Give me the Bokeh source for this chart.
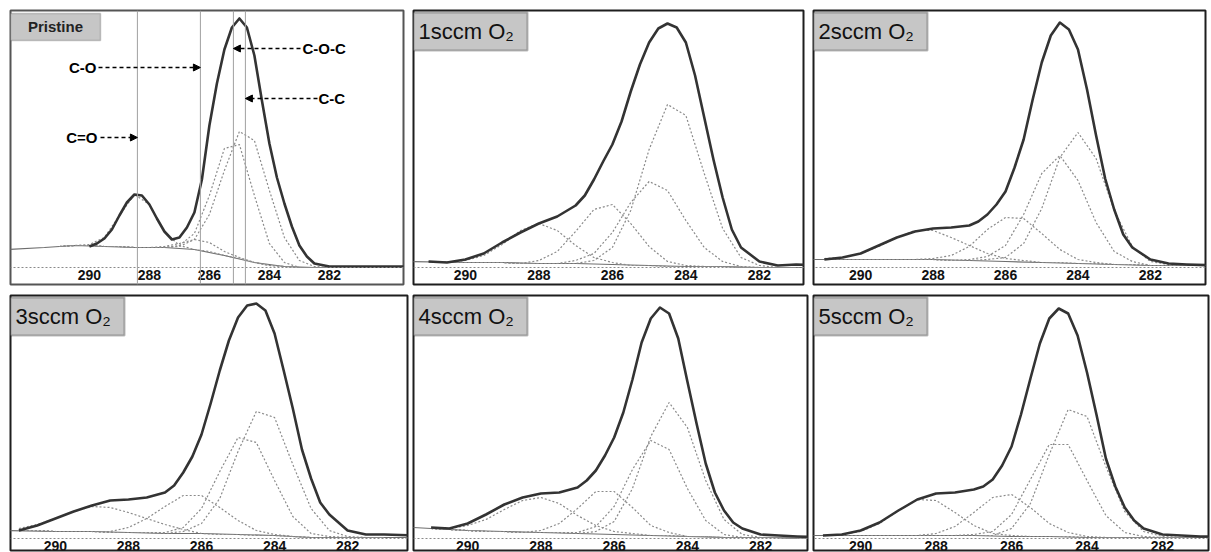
from bokeh.plotting import figure
from bokeh.layouts import row, column
from bokeh.models import Range1d, FixedTicker, Span, Arrow, NormalHead, Label, BoxAnnotation
from bokeh.embed import file_html
from bokeh.resources import INLINE

# ---------------- data (binding energy in eV, intensity in a.u.) ----------------
TICKS = [290, 288, 286, 284, 282]
TICK_LABELS = ["290", "288", "286", "284", "282"]
PANEL_TITLES = ["Pristine", "1sccm O\u2082", "2sccm O\u2082", "3sccm O\u2082", "4sccm O\u2082", "5sccm O\u2082"]
COMPONENT_NAMES = ["C=O", "C-O", "C-O-C", "C-C"]
PRISTINE_PEAKS = [288.4, 286.3, 285.2, 284.8]   # C=O, C-O, C-O-C, C-C

ENV_E = [291.0, 290.5, 290.0, 289.5, 289.0, 288.5, 288.0, 287.5, 287.0, 286.75, 286.5,
         286.25, 286.0, 285.75, 285.5, 285.25, 285.0, 284.75, 284.5, 284.25, 284.0,
         283.75, 283.5, 283.25, 283.0, 282.75, 282.5, 282.0, 281.5, 281.0, 280.2]
PRISTINE_E = [290.0, 289.75, 289.5, 289.25, 289.0, 288.75, 288.5, 288.25, 288.0, 287.75,
              287.5, 287.25, 287.0, 286.75, 286.5, 286.25, 286.0, 285.75, 285.5, 285.25,
              285.0, 284.75, 284.5, 284.25, 284.0, 283.75, 283.5, 283.25, 283.0, 282.75,
              282.5, 282.0, 281.0, 280.0, 279.4]
CMP_E = [291.0, 290.5, 290.0, 289.5, 289.0, 288.5, 288.0, 287.5, 287.0, 286.5, 286.0,
         285.5, 285.0, 284.5, 284.0, 283.5, 283.0, 282.5, 282.0, 281.5, 281.0]
BG_E = [291.5, 290.0, 289.0, 288.0, 287.0, 286.0, 285.0, 284.0, 283.0, 282.0, 280.2]
BG1_E = [292.7, 291.5, 290.5, 289.5, 288.5, 287.5, 286.5, 285.5, 284.5, 283.5, 282.5, 281.0, 279.4]

# Pristine
P1_ENV = [21, 24, 29, 38, 52, 65, 73, 72, 63, 49, 36, 28, 30, 40, 55, 88, 142, 184, 218, 240,
          249, 240, 212, 167, 124, 90, 64, 41, 22, 11, 4, 1, 1, 1, 1]
P1_BG = [18, 20, 22, 21, 20, 20, 18, 12, 5, 1, 0, 0, 0]
P1_C_EQ_O = [21, 22, 23, 30, 52, 73, 63, 36, 22, 18, 16, 12, 9, 5, 2, 1, 0, 0, 0, 0, 0]
P1_C_O = [21, 22, 22, 21, 21, 20, 20, 21, 24, 28, 25, 16, 10, 5, 2, 1, 0, 0, 0, 0, 0]
P1_C_O_C = [21, 22, 22, 21, 21, 20, 20, 20, 22, 34, 72, 119, 123, 72, 24, 5, 0, 0, 0, 0, 0]
P1_C_C = [21, 22, 22, 21, 21, 20, 20, 20, 21, 28, 53, 97, 136, 127, 77, 30, 7, 1, 0, 0, 0]

# 1 sccm O2
P2_ENV = [6, 5, 8, 14, 25, 35, 44, 51, 62, 72, 88, 106, 123, 146, 176, 203, 225, 239, 244, 240,
          225, 192, 150, 108, 70, 38, 20, 6, 2, 3, 2]
P2_BG = [6, 5, 5, 4, 4, 3, 2, 1, 1, 0, 0]
P2_C_EQ_O = [6, 5, 7, 12, 23, 37, 44, 37, 22, 10, 5, 2, 2, 1, 1, 1, 1, 0, 0, 0, 0]
P2_C_O = [6, 5, 5, 5, 5, 4, 7, 16, 36, 58, 63, 44, 21, 6, 2, 1, 1, 0, 0, 0, 0]
P2_C_O_C = [6, 5, 5, 5, 5, 4, 4, 4, 7, 14, 35, 65, 86, 77, 47, 20, 6, 1, 0, 0, 0]
P2_C_C = [6, 5, 5, 5, 5, 4, 4, 4, 4, 7, 20, 57, 118, 163, 152, 94, 39, 10, 2, 0, 0]

# 2 sccm O2
P3_ENV = [8, 10, 14, 22, 30, 36, 39, 40, 42, 46, 53, 63, 76, 100, 128, 168, 205, 232, 245, 238,
          218, 178, 132, 89, 58, 33, 20, 8, 4, 3, 2]
P3_BG = [8, 8, 8, 8, 7, 6, 5, 4, 3, 2, 2]
P3_C_EQ_O = [9, 10, 14, 21, 30, 37, 37, 30, 22, 14, 9, 7, 5, 5, 4, 4, 3, 3, 2, 2, 2]
P3_C_O = [8, 8, 8, 8, 8, 8, 9, 12, 21, 38, 50, 49, 34, 18, 8, 5, 3, 3, 2, 2, 2]
P3_C_O_C = [8, 8, 8, 8, 8, 8, 8, 7, 8, 11, 22, 53, 94, 112, 87, 45, 16, 6, 2, 2, 2]
P3_C_C = [8, 8, 8, 8, 8, 8, 8, 7, 7, 8, 10, 24, 59, 110, 135, 109, 57, 21, 6, 3, 2]

# 3 sccm O2
P4_ENV = [8, 13, 20, 27, 33, 38, 39, 41, 46, 53, 66, 82, 104, 135, 168, 198, 221, 233, 235, 228,
          205, 168, 130, 89, 60, 36, 24, 8, 4, 4, 3]
P4_BG = [8, 7, 7, 6, 5, 5, 4, 3, 1, 1, 1]
P4_C_EQ_O = [10, 14, 20, 27, 32, 31, 26, 20, 14, 9, 5, 4, 4, 3, 3, 2, 1, 1, 1, 1, 1]
P4_C_O = [8, 8, 7, 7, 7, 7, 11, 20, 32, 43, 43, 31, 18, 8, 4, 2, 1, 1, 1, 1, 1]
P4_C_O_C = [8, 8, 7, 7, 7, 6, 6, 6, 6, 11, 30, 67, 101, 96, 58, 22, 5, 2, 1, 1, 1]
P4_C_C = [8, 8, 7, 7, 7, 6, 6, 6, 5, 7, 15, 40, 87, 127, 121, 74, 30, 8, 2, 1, 1]

# 4 sccm O2
P5_ENV = [11, 10, 15, 24, 34, 41, 45, 46, 51, 58, 68, 83, 101, 126, 159, 196, 220, 231, 225, 200,
          157, 115, 75, 46, 28, 16, 10, 4, 3, 2, 1]
P5_BG = [11, 8, 7, 6, 5, 4, 3, 2, 1, 1, 0]
P5_C_EQ_O = [10, 10, 13, 19, 29, 38, 41, 35, 23, 13, 7, 5, 3, 3, 2, 2, 1, 1, 1, 1, 0]
P5_C_O = [10, 9, 8, 7, 7, 6, 8, 15, 30, 47, 47, 31, 13, 6, 2, 2, 1, 1, 1, 1, 0]
P5_C_O_C = [10, 9, 8, 7, 7, 6, 6, 6, 6, 12, 32, 69, 98, 89, 50, 18, 4, 1, 1, 1, 0]
P5_C_C = [10, 9, 8, 7, 7, 6, 6, 6, 5, 7, 17, 50, 102, 136, 111, 58, 19, 4, 1, 1, 0]

# 5 sccm O2
P6_ENV = [3, 4, 8, 16, 28, 39, 45, 46, 49, 52, 59, 73, 92, 124, 160, 195, 220, 230, 225, 203,
          166, 124, 80, 52, 31, 18, 10, 4, 3, 2, 2]
P6_BG = [3, 3, 3, 3, 3, 2, 2, 1, 1, 1, 1]
P6_C_EQ_O = [3, 4, 7, 15, 28, 39, 38, 26, 13, 5, 3, 2, 2, 2, 1, 1, 1, 1, 1, 1, 1]
P6_C_O = [3, 3, 3, 3, 3, 3, 5, 12, 26, 41, 44, 31, 15, 6, 2, 1, 1, 1, 1, 1, 1]
P6_C_O_C = [3, 3, 3, 3, 3, 3, 3, 3, 4, 7, 24, 59, 94, 94, 58, 23, 6, 2, 1, 1, 1]
P6_C_C = [3, 3, 3, 3, 3, 3, 3, 3, 3, 3, 10, 35, 84, 129, 122, 72, 27, 7, 2, 1, 1]

# ---------------- layout (frame px width, height, x range, y range, borders) ----------------
SPECS = [
    (393, 274, 292.63, 279.53, -17, 257),
    (390, 274, 291.41, 280.80, -17, 257),
    (392, 274, 291.30, 280.48, -17, 257),
    (397, 255, 291.23, 280.36, -12, 243),
    (394, 255, 291.48, 280.72, -12, 243),
    (395, 255, 291.25, 280.78, -12, 243),
]
BORDERS = [  # left, top, right, bottom (px)
    (10, 10, 2, 2), (2, 10, 2, 2), (2, 10, 2, 2),
    (10, 2, 2, 2), (2, 2, 2, 2), (2, 2, 2, 2),
]

ENV_COLOR = "#333333"
CMP_COLOR = "#8a8a8a"
BG_COLOR = "#6e6e6e"
FONT = "Liberation Sans"


def to_data(spec, dx, dy):
    fw, fh, e0, e1, y0, y1 = spec
    return e0 - dx * (e0 - e1) / fw, y1 - dy * (y1 - y0) / fh


def make_panel(idx, env_e, env, comps, bg_e, bg):
    spec = SPECS[idx]
    fw, fh, e0, e1, y0, y1 = spec
    bl, bt, br, bb = BORDERS[idx]
    p = figure(width=fw + bl + br, height=fh + bt + bb,
               x_range=Range1d(e0, e1), y_range=Range1d(y0, y1),
               output_backend="svg", toolbar_location=None, title=None,
               min_border_left=bl, min_border_right=br, min_border_top=bt, min_border_bottom=bb)
    p.grid.visible = False
    p.yaxis.visible = False
    p.outline_line_color = "#1e1e1e" if idx else "#555555"
    p.outline_line_width = 2
    p.background_fill_color = "white"
    p.border_fill_color = "white"
    xa = p.xaxis[0]
    xa.fixed_location = 0
    xa.ticker = FixedTicker(ticks=TICKS)
    xa.major_label_overrides = {t: s for t, s in zip(TICKS, TICK_LABELS)}
    xa.axis_line_color = "#8a8a8a"
    xa.axis_line_dash = "2 2"
    xa.axis_line_width = 1
    xa.major_tick_in = 0
    xa.major_tick_out = 0
    xa.minor_tick_in = 0
    xa.minor_tick_out = 0
    xa.major_label_standoff = 2
    xa.major_label_text_font = FONT
    xa.major_label_text_font_style = "bold"
    xa.major_label_text_font_size = "14px"
    xa.major_label_text_color = "#111111"

    if idx == 0:
        for e in PRISTINE_PEAKS:
            p.add_layout(Span(location=e, dimension="height", line_color="#a0a0a0", line_width=1))

    p.line(bg_e, bg, line_color=BG_COLOR, line_width=1.2)
    for comp in comps:
        p.line(CMP_E, comp, line_color=CMP_COLOR, line_width=1.2, line_dash="2 2")
    p.line(env_e, env, line_color=ENV_COLOR, line_width=2.6, line_join="round")

    # title box
    if idx == 0:
        l, t = to_data(spec, 0, 3)
        r, b = to_data(spec, 90, 30)
        p.add_layout(BoxAnnotation(left=l, right=r, top=t, bottom=b, fill_color="#c6c6c6",
                                   fill_alpha=1, line_color="#555555", line_width=1.5))
        tx, ty = to_data(spec, 45, 16)
        p.add_layout(Label(x=tx, y=ty, text=PANEL_TITLES[idx], text_font=FONT,
                           text_font_style="bold", text_font_size="15px", text_color="#222222",
                           text_align="center", text_baseline="middle"))
        # arrows and bond labels
        heights = [127, 57, 38, 88]            # px from frame top
        tails = [90, 88, 290, 307]             # px from frame left
        label_dx = [87, 86, 292, 308]
        aligns = ["right", "right", "left", "left"]
        for name, e, dy, tdx, ldx, al in zip(COMPONENT_NAMES, PRISTINE_PEAKS, heights, tails, label_dx, aligns):
            xs, ys = to_data(spec, tdx, dy)
            p.add_layout(Arrow(end=NormalHead(size=7, fill_color="black", line_color="black"),
                               x_start=xs, y_start=ys, x_end=e, y_end=ys,
                               line_color="black", line_width=1.5, line_dash="4 3"))
            lx, ly = to_data(spec, ldx, dy)
            p.add_layout(Label(x=lx, y=ly, text=name, text_font=FONT,
                               text_font_style="bold", text_font_size="15px", text_color="black",
                               text_align=al, text_baseline="middle"))
    else:
        l, t = to_data(spec, 0, 2)
        r, b = to_data(spec, 114, 40)
        p.add_layout(BoxAnnotation(left=l, right=r, top=t, bottom=b, fill_color="#c6c6c6",
                                   fill_alpha=1, line_color="#1e1e1e", line_width=2))
        tx, ty = to_data(spec, 5, 21)
        p.add_layout(Label(x=tx, y=ty, text=PANEL_TITLES[idx], text_font=FONT,
                           text_font_size="22px", text_color="#111111",
                           text_align="left", text_baseline="middle"))
    return p


panels = [
    make_panel(0, PRISTINE_E, P1_ENV, [P1_C_EQ_O, P1_C_O, P1_C_O_C, P1_C_C], BG1_E, P1_BG),
    make_panel(1, ENV_E, P2_ENV, [P2_C_EQ_O, P2_C_O, P2_C_O_C, P2_C_C], BG_E, P2_BG),
    make_panel(2, ENV_E, P3_ENV, [P3_C_EQ_O, P3_C_O, P3_C_O_C, P3_C_C], BG_E, P3_BG),
    make_panel(3, ENV_E, P4_ENV, [P4_C_EQ_O, P4_C_O, P4_C_O_C, P4_C_C], BG_E, P4_BG),
    make_panel(4, ENV_E, P5_ENV, [P5_C_EQ_O, P5_C_O, P5_C_O_C, P5_C_C], BG_E, P5_BG),
    make_panel(5, ENV_E, P6_ENV, [P6_C_EQ_O, P6_C_O, P6_C_O_C, P6_C_C], BG_E, P6_BG),
]

layout = column(row(panels[0], panels[1], panels[2], spacing=6),
                row(panels[3], panels[4], panels[5], spacing=2),
                spacing=7)

open("out.html", "w").write(file_html(layout, INLINE))
